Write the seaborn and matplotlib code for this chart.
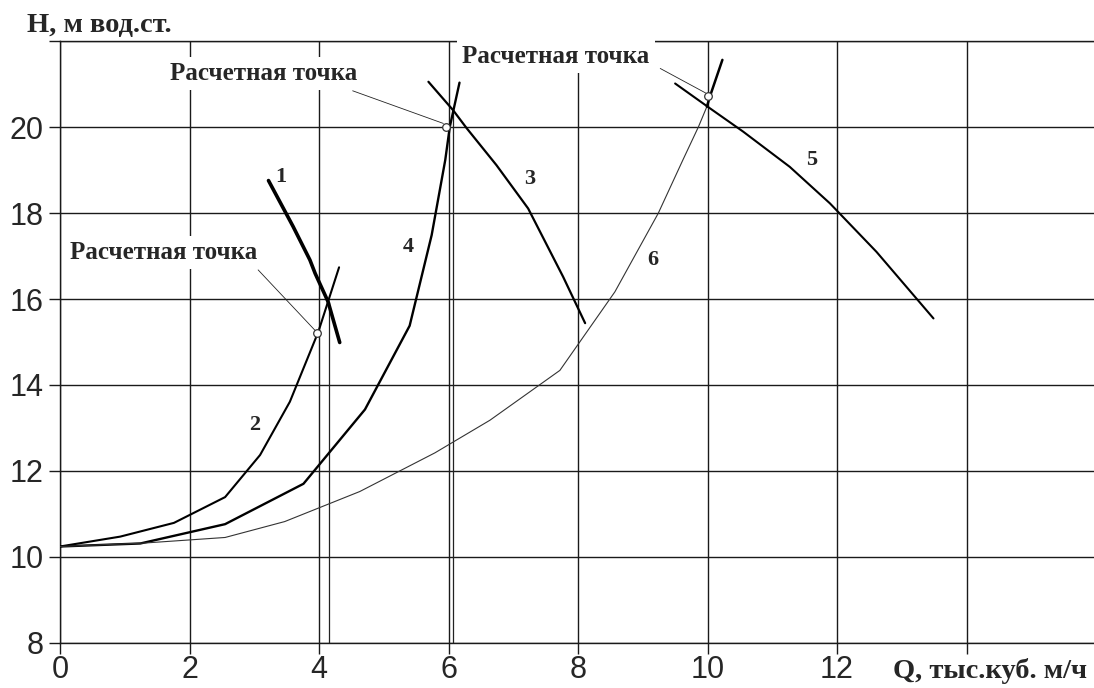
import matplotlib
matplotlib.use("Agg")
import matplotlib.pyplot as plt
import seaborn as sns
import pandas as pd

# ---- data ----
c1_x = [3.22, 3.60, 3.86, 3.94, 4.14, 4.32]
c1_y = [18.76, 17.69, 16.91, 16.60, 15.94, 14.99]

c2_x = [0.0, 0.93, 1.76, 2.55, 3.09, 3.55, 3.99, 4.31]
c2_y = [10.24, 10.47, 10.79, 11.39, 12.37, 13.61, 15.24, 16.74]

c3_x = [5.69, 6.07, 6.28, 6.74, 7.23, 7.77, 8.11]
c3_y = [21.06, 20.40, 19.98, 19.12, 18.11, 16.52, 15.44]

c4_x = [0.0, 1.24, 2.55, 3.76, 4.71, 5.40, 5.74, 5.95, 6.02, 6.17]
c4_y = [10.24, 10.31, 10.76, 11.70, 13.43, 15.38, 17.49, 19.24, 20.01, 21.04]

c5_x = [9.50, 10.04, 10.55, 11.27, 11.89, 12.61, 13.49]
c5_y = [21.02, 20.44, 19.90, 19.08, 18.23, 17.10, 15.55]

c6_x = [0.0, 1.3, 2.55, 3.47, 4.63, 5.79, 6.64, 7.72, 8.57, 9.24, 9.62, 9.86, 9.99]
c6_y = [10.24, 10.32, 10.45, 10.82, 11.52, 12.42, 13.18, 14.34, 16.17, 18.00, 19.24, 20.01, 20.48]
c6ext_x = [9.99, 10.04, 10.23]
c6ext_y = [20.48, 20.73, 21.57]

calc_x = [3.97, 5.96, 10.01]
calc_y = [15.22, 20.01, 20.73]

oper_x = [4.16, 6.07]
oper_top = [15.94, 20.40]

lead_from_x = [3.06, 4.52, 9.27]
lead_from_y = [16.68, 20.85, 21.37]
lead_to_x = [3.94, 5.92, 9.97]
lead_to_y = [15.27, 20.09, 20.80]

note_text = "Расчетная точка"
note_x = [1.60, 3.14, 7.66]
note_y = [17.09, 21.25, 21.65]

curve_labels = ["1", "2", "3", "4", "5", "6"]
curve_label_x = [3.41, 3.00, 7.26, 5.38, 11.61, 9.16]
curve_label_y = [18.85, 13.08, 18.79, 17.22, 19.24, 16.91]

x_ticks = [0, 2, 4, 6, 8, 10, 12, 14, 16]
x_tick_labels = ["0", "2", "4", "6", "8", "10", "12", "", ""]
y_ticks = [8, 10, 12, 14, 16, 18, 20, 22]
y_tick_labels = ["8", "10", "12", "14", "16", "18", "20", ""]

y_title = "H, м вод.ст."
x_title = "Q, тыс.куб. м/ч"

# ---- drawing ----
sns.set_style("white")
plt.rcParams['font.family'] = ['Liberation Sans', 'DejaVu Sans']
serif = ["Liberation Serif", "DejaVu Serif"]
grid_col = "#1a1a1a"

fig = plt.figure(figsize=(10.94, 6.88), dpi=100)
ax = fig.add_axes([60 / 1094, 1 - 642.7 / 688, 1036 / 1094, (642.7 - 41.4) / 688])

curves = [
    (c1_x, c1_y, 2.6, "black"),
    (c2_x, c2_y, 1.5, "black"),
    (c3_x, c3_y, 1.6, "black"),
    (c4_x, c4_y, 1.7, "black"),
    (c5_x, c5_y, 1.5, "black"),
    (c6_x, c6_y, 0.8, "#333333"),
    (c6ext_x, c6ext_y, 1.8, "black"),
]
for xs, ys, lw, col in curves:
    df = pd.DataFrame({"Q": xs, "H": ys})
    sns.lineplot(data=df, x="Q", y="H", ax=ax, sort=False, estimator=None,
                 color=col, linewidth=lw, zorder=3)

# operating-point verticals
ax.vlines(oper_x, 8, oper_top, color="#222222", linewidth=0.9, zorder=2)

# leader lines
for x0, y0, x1, y1 in zip(lead_from_x, lead_from_y, lead_to_x, lead_to_y):
    ax.plot([x0, x1], [y0, y1], color="#222222", linewidth=0.6, zorder=3)

# calc points
sns.scatterplot(x=calc_x, y=calc_y, ax=ax, s=30, facecolor="white",
                edgecolor="#333333", linewidth=0.9, zorder=5, marker="o")

for tx, ty in zip(note_x, note_y):
    ax.text(tx, ty, note_text, ha="center", va="center", fontsize=18,
            fontweight="bold", family=serif,
            bbox=dict(boxstyle="square,pad=0.2", facecolor="white",
                      edgecolor="none"), zorder=6)

for lab, lx, ly in zip(curve_labels, curve_label_x, curve_label_y):
    ax.text(lx, ly, lab, ha="center", va="center", fontsize=16,
            fontweight="bold", family=serif, zorder=6)

ax.set_xlim(0, 16)
ax.set_ylim(8, 22)
ax.set_xticks(x_ticks)
ax.set_xticklabels(x_tick_labels)
ax.set_yticks(y_ticks)
ax.set_yticklabels(y_tick_labels)
ax.set_xlabel("")
ax.set_ylabel("")
ax.grid(True, color=grid_col, linewidth=1.0)
ax.set_axisbelow(True)
for name, s in ax.spines.items():
    if name in ("bottom", "left", "top"):
        s.set_visible(True)
        s.set_color(grid_col)
        s.set_linewidth(1.0)
    else:
        s.set_visible(False)
ax.tick_params(axis="both", direction="out", length=8, width=1.0,
               color=grid_col, labelsize=22, bottom=True, left=True)
ax.tick_params(axis="x", pad=1)
ax.tick_params(axis="y", pad=4)

fig.text(27 / 1094, 1 - 32 / 688, y_title, ha="left", va="baseline",
         fontsize=20.5, fontweight="bold", family=serif)
fig.text(1087 / 1094, 1 - 678 / 688, x_title, ha="right", va="baseline",
         fontsize=20.5, fontweight="bold", family=serif)

fig.savefig("out.png", dpi=100)
